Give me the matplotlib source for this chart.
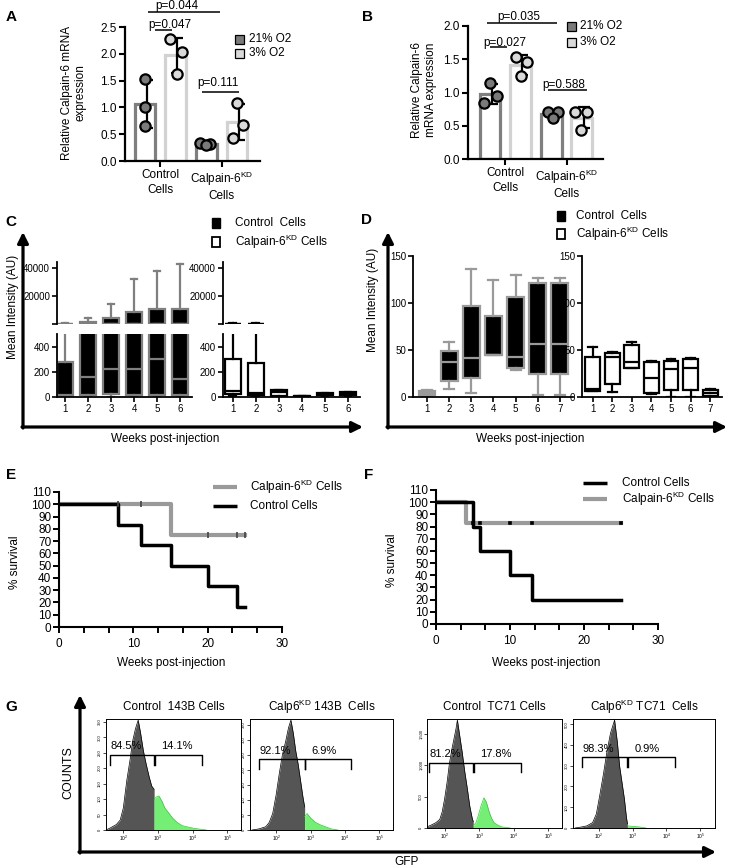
import numpy as np
import matplotlib
matplotlib.use("Agg")
import matplotlib.pyplot as plt
from matplotlib import font_manager
from matplotlib.patches import Rectangle
from matplotlib.ticker import MultipleLocator, LogLocator, NullFormatter

W, H = 729, 868

# ---------------- data ----------------
# A / B: relative Calpain-6 mRNA expression, three replicates per bar
A_CTRL_21 = [1.53, 1.00, 0.65]
A_CTRL_3 = [2.27, 2.03, 1.62]
A_KD_21 = [0.33, 0.31, 0.30]
A_KD_3 = [1.08, 0.67, 0.42]
B_CTRL_21 = [1.14, 0.94, 0.84]
B_CTRL_3 = [1.54, 1.46, 1.25]
B_KD_21 = [0.71, 0.70, 0.62]
B_KD_3 = [0.71, 0.71, 0.44]
AB_GROUPS = ["Control\nCells", "Calpain-6$^{\\mathrm{KD}}$\nCells"]
AB_LEGEND = ["21% O2", "3% O2"]

# C / D: mean intensity box plots, (min, q1, median, q3, max) per week
C_WEEKS = [1, 2, 3, 4, 5, 6]
C_CTRL = [(0, 10, 12, 275, 900), (0, 15, 160, 1500, 4500), (0, 20, 220, 4000, 14000),
          (0, 15, 220, 8500, 32000), (0, 15, 300, 10500, 38000), (0, 15, 140, 11000, 43000)]
C_KD = [(5, 20, 50, 300, 900), (5, 15, 35, 270, 900), (2, 8, 40, 55, 55),
        (0, 2, 4, 6, 8), (5, 12, 20, 30, 35), (8, 12, 25, 38, 42)]
D_WEEKS = [1, 2, 3, 4, 5, 6, 7]
D_CTRL = [(1, 2, 4, 6, 7), (8, 17, 37, 49, 58), (4, 20, 42, 97, 136), (45, 45, 45, 86, 124),
          (29, 31, 43, 106, 130), (2, 25, 56, 121, 127), (2, 25, 56, 121, 127)]
D_KD = [(6, 6, 9, 43, 53), (5, 14, 43, 47, 48), (31, 31, 37, 55, 59), (3, 4, 20, 37, 38),
        (0, 7, 30, 38, 40), (0, 7, 31, 40, 41), (0, 1, 4, 7, 8)]
C_BREAK = 500

# E / F: Kaplan-Meier survival (%)
E_CTRL_T = [0, 8, 11, 15, 20, 24, 25]
E_CTRL_S = [100, 83.3, 66.7, 50, 33.3, 16.7, 16.7]
E_KD_T = [0, 15, 25]
E_KD_S = [100, 75, 75]
E_KD_CENS = [8, 11, 20, 24, 25]
F_CTRL_T = [0, 5, 6, 10, 13, 25]
F_CTRL_S = [100, 80, 60, 40, 20, 20]
F_KD_T = [0, 4, 25]
F_KD_S = [100, 83.3, 83.3]
F_KD_CENS = [5, 6, 10, 13, 25]

# G: GFP flow histograms (log10 GFP, relative counts), split at the gate
H1_DARK_LOG = [1.5, 1.63, 1.8, 1.91, 2.0, 2.1, 2.2, 2.27, 2.35, 2.43, 2.5, 2.58, 2.66, 2.75, 2.82, 2.89]
H1_DARK = [0, 0.02, 0.05, 0.09, 0.2, 0.45, 0.65, 0.81, 0.92, 1.0, 0.88, 0.72, 0.6, 0.48, 0.4, 0.37]
H1_GREEN_LOG = [2.89, 2.95, 3.03, 3.12, 3.2, 3.3, 3.42, 3.55, 3.7, 3.9, 4.05, 4.2, 4.4]
H1_GREEN = [0.28, 0.3, 0.31, 0.26, 0.2, 0.16, 0.11, 0.07, 0.04, 0.025, 0.015, 0.008, 0]
H2_DARK_LOG = [1.3, 1.5, 1.6, 1.7, 1.8, 1.9, 2.0, 2.09, 2.18, 2.28, 2.36, 2.43, 2.5, 2.57, 2.64, 2.71, 2.78, 2.83]
H2_DARK = [0, 0.01, 0.02, 0.03, 0.07, 0.15, 0.32, 0.51, 0.68, 0.81, 0.93, 1.0, 0.88, 0.72, 0.6, 0.45, 0.3, 0.21]
H2_GREEN_LOG = [2.83, 2.9, 3.0, 3.14, 3.3, 3.43, 3.6, 3.8]
H2_GREEN = [0.12, 0.15, 0.11, 0.07, 0.045, 0.03, 0.01, 0]
H3_DARK_LOG = [1.49, 1.63, 1.75, 1.86, 1.93, 2.0, 2.07, 2.14, 2.21, 2.28, 2.33, 2.37, 2.44, 2.51, 2.58, 2.66, 2.73, 2.8, 2.83]
H3_DARK = [0.01, 0.03, 0.05, 0.08, 0.15, 0.27, 0.42, 0.6, 0.73, 0.84, 0.92, 1.0, 0.85, 0.7, 0.53, 0.36, 0.2, 0.09, 0.06]
H3_GREEN_LOG = [2.83, 2.91, 2.98, 3.06, 3.14, 3.21, 3.29, 3.36, 3.43, 3.55, 3.66, 3.9]
H3_GREEN = [0.02, 0.05, 0.12, 0.21, 0.28, 0.24, 0.15, 0.09, 0.05, 0.025, 0.01, 0]
H4_DARK_LOG = [1.3, 1.5, 1.65, 1.82, 1.93, 2.03, 2.14, 2.24, 2.35, 2.47, 2.55, 2.62, 2.69, 2.76, 2.82, 2.85]
H4_DARK = [0, 0.01, 0.02, 0.05, 0.13, 0.3, 0.5, 0.7, 0.88, 1.0, 0.8, 0.57, 0.42, 0.27, 0.1, 0.04]
H4_GREEN_LOG = [2.85, 3.0, 3.2, 3.4]
H4_GREEN = [0.02, 0.015, 0.01, 0]
G_PEAKS = [355, 365, 1720, 520]
G_TITLES = ["Control  143B Cells", "Calp6$^{\\mathrm{KD}}$ 143B  Cells",
            "Control  TC71 Cells", "Calp6$^{\\mathrm{KD}}$ TC71  Cells"]
G_PCT = [("84.5%", "14.1%"), ("92.1%", "6.9%"), ("81.2%", "17.8%"), ("98.3%", "0.9%")]
G_GATES = [(1.61, 2.89, 4.26), (1.49, 2.83, 4.17), (1.54, 2.83, 4.2), (1.5, 2.85, 4.26)]
G_YTICKS = [list(range(0, 351, 50)), list(range(0, 351, 50)), [0, 500, 1000, 1500], [0, 100, 200, 300, 400, 500]]
G_YLABELS = [[str(v) for v in G_YTICKS[0]], [str(v) for v in G_YTICKS[1]],
             ["0", "500", "1,000", "1,500"], [str(v) for v in G_YTICKS[3]]]

# ---------------- style ----------------
plt.rcParams['font.family'] = ['Liberation Sans', 'DejaVu Sans']
plt.rcParams['mathtext.fontset'] = 'custom'
plt.rcParams['mathtext.rm'] = 'Liberation Sans'
plt.rcParams['mathtext.it'] = 'Liberation Sans:italic'
plt.rcParams['mathtext.bf'] = 'Liberation Sans:bold'
names = {f.name for f in font_manager.fontManager.ttflist}
NARROW = 'Liberation Sans Narrow' if 'Liberation Sans Narrow' in names else 'Liberation Sans'

fig = plt.figure(figsize=(W / 100, H / 100), dpi=100)

# overlay axes in pixel coordinates for annotations
ov = fig.add_axes([0, 0, 1, 1])
ov.set_xlim(0, W)
ov.set_ylim(H, 0)
ov.axis('off')
ov.set_zorder(10)


def px_axes(x0, y0, x1, y1):
    return fig.add_axes([x0 / W, 1 - y1 / H, (x1 - x0) / W, (y1 - y0) / H])


def line(x0, y0, x1, y1, lw=1.2, color='black'):
    ov.plot([x0, x1], [y0, y1], color=color, lw=lw, solid_capstyle='butt')


def arrow(x0, y0, x1, y1):
    ov.annotate('', xy=(x1, y1), xytext=(x0, y0),
                arrowprops=dict(arrowstyle='-|>', lw=2.3, color='black',
                                mutation_scale=16, shrinkA=0, shrinkB=0))


def clean(ax, lw=1.5):
    for s in ['top', 'right']:
        ax.spines[s].set_visible(False)
    for s in ['left', 'bottom']:
        ax.spines[s].set_linewidth(lw)


# ---------------- A / B ----------------
def bar_panel(box, groups, jit, ylim, yticks, xlim):
    ax = px_axes(*box)
    pos = np.arange(4)
    edge = ['#7f7f7f', '#d2d2d2'] * 2
    face = ['#7a7a7a', '#d9d9d9'] * 2
    means = [np.mean(g) for g in groups]
    sds = [np.std(g, ddof=1) for g in groups]
    ax.bar(pos, means, width=0.68, color='white', edgecolor=edge, linewidth=2.3, zorder=1)
    ax.errorbar(pos + 0.06, means, yerr=sds, fmt='none', ecolor='black',
                elinewidth=1.6, capsize=4, capthick=1.6, zorder=2)
    for p, g, fc, j in zip(pos, groups, face, jit):
        ax.scatter(p + np.array(j), g, s=55, color=fc, edgecolors='black',
                   linewidths=1.6, zorder=3, clip_on=False)
    ax.set_xlim(*xlim)
    ax.set_ylim(*ylim)
    ax.set_yticks(yticks)
    ax.set_yticklabels([f"{v:.1f}" for v in yticks])
    ax.set_xticks([0.5, 2.5])
    ax.set_xticklabels(AB_GROUPS, linespacing=1.3)
    clean(ax, 1.6)
    ax.tick_params(labelsize=8.5, width=1.5, length=4, pad=2)
    return ax


bar_panel((125, 27, 260, 161), [A_CTRL_21, A_CTRL_3, A_KD_21, A_KD_3],
          [[0, 0, 0], [-0.17, 0.2, 0.03], [-0.2, 0.13, 0], [0, 0.2, -0.13]],
          (0, 2.5), [0, 0.5, 1.0, 1.5, 2.0, 2.5], (-0.65, 3.75))
bar_panel((468, 26, 603, 159), [B_CTRL_21, B_CTRL_3, B_KD_21, B_KD_3],
          [[0, 0.22, -0.2], [-0.16, 0.2, 0], [-0.1, 0.23, 0.06], [-0.23, 0.16, -0.03]],
          (0, 2.0), [0, 0.5, 1.0, 1.5, 2.0], (-0.72, 3.69))

ov.text(74, 93, "Relative Calpain-6 mRNA\nexpression", rotation=90, ha='center', va='center',
        multialignment='center', fontsize=8.5, linespacing=1.2)
ov.text(424, 90, "Relative Calpain-6\nmRNA expression", rotation=90, ha='center', va='center',
        multialignment='center', fontsize=8.5, linespacing=1.2)

# p-value brackets
for (tx, ty, s, x0, x1, ly) in [(177, 6, "p=0.044", 148, 220, 12), (170, 25, "p=0.047", 155, 172, 30),
                                (218, 83, "p=0.111", 202, 239, 92),
                                (519, 17, "p=0.035", 487, 557, 23), (505, 43, "p=0.027", 490, 507, 47),
                                (564, 85, "p=0.588", 548, 587, 90)]:
    ov.text(tx, ty, s, ha='center', va='center', fontsize=8.5)
    line(x0, ly, x1, ly, lw=1.1)

# legends A / B
for (sx, tx, y0, y1) in [(235, 249, 39, 53), (567, 580, 26, 42)]:
    for y, fc, lab in [(y0, '#7a7a7a', AB_LEGEND[0]), (y1, '#d9d9d9', AB_LEGEND[1])]:
        ov.add_patch(Rectangle((sx, y - 4.5), 9, 9, facecolor=fc, edgecolor='black', lw=0.9))
        ov.text(tx, y, lab, ha='left', va='center', fontsize=8.5)


# ---------------- C / D ----------------
def draw_boxes(ax, weeks, stats, face, edge, lw, width, capw):
    bs = [dict(whislo=s[0], q1=s[1], med=s[2], q3=s[3], whishi=s[4], fliers=[]) for s in stats]
    ax.bxp(bs, positions=weeks, widths=width, capwidths=capw, patch_artist=True,
           showfliers=False, manage_ticks=False,
           boxprops=dict(facecolor=face, edgecolor=edge, linewidth=lw),
           medianprops=dict(color=edge, linewidth=lw),
           whiskerprops=dict(color=edge, linewidth=lw),
           capprops=dict(color=edge, linewidth=lw))


def box_axes(box, xlim, ylim, yticks, ylabels, weeks=None):
    ax = px_axes(*box)
    ax.set_xlim(*xlim)
    ax.set_ylim(*ylim)
    ax.set_yticks(yticks)
    ax.set_yticklabels(ylabels, fontfamily=NARROW, fontsize=7)
    clean(ax, 1.3)
    if weeks is None:
        ax.spines['bottom'].set_visible(False)
        ax.set_xticks([])
    else:
        ax.set_xticks(weeks)
        ax.set_xticklabels([str(w) for w in weeks], fontfamily=NARROW, fontsize=7)
    ax.tick_params(width=1.2, length=3.5, pad=1.5)
    return ax


ctrl_style = ('black', '#7f7f7f', 1.6)
kd_style = ('white', 'black', 1.6)
for x0, x1, xlim, stats, style in [(57, 192, (0.65, 6.52), C_CTRL, ctrl_style),
                                   (223, 360, (0.57, 6.52), C_KD, kd_style)]:
    top = box_axes((x0, 262, x1, 324), xlim, (0, 44300), [0, 20000, 40000], ['', '20000', '40000'])
    bot = box_axes((x0, 334, x1, 397), xlim, (0, C_BREAK), [0, 200, 400], ['0', '200', '400'], C_WEEKS)
    # upper segment only shows boxes reaching above the axis break
    tall = [i for i, s in enumerate(stats) if s[4] > C_BREAK]
    draw_boxes(top, [C_WEEKS[i] for i in tall], [stats[i] for i in tall], *style, 0.7, 0.3)
    draw_boxes(bot, C_WEEKS, stats, *style, 0.7, 0.3)
    for ax in (top, bot):
        ax.set_xlim(*xlim)

for x0, x1, xlim, stats, style in [(413, 573, (0.36, 7.6), D_CTRL, ('black', '#9a9a9a', 1.6)),
                                   (582, 722, (0.46, 7.6), D_KD, kd_style)]:
    ax = box_axes((x0, 256, x1, 397), xlim, (0, 150), [0, 50, 100, 150], ['0', '50', '100', '150'], D_WEEKS)
    draw_boxes(ax, D_WEEKS, stats, *style, 0.75, 0.45)
    ax.set_xlim(*xlim)

arrow(23, 428, 23, 232)
arrow(22, 427, 363, 427)
arrow(388, 428, 388, 232)
arrow(387, 427, 727, 427)
ov.text(13, 307, "Mean Intensity (AU)", rotation=90, ha='center', va='center', fontsize=8.5)
ov.text(373, 300, "Mean Intensity (AU)", rotation=90, ha='center', va='center', fontsize=8.5)
ov.text(165, 439, "Weeks post-injection", ha='center', va='center', fontsize=8.5)
ov.text(530, 439, "Weeks post-injection", ha='center', va='center', fontsize=8.5)

for (sx, tx, y0, y1) in [(212, 235, 223, 242), (557, 576, 216, 234)]:
    ov.add_patch(Rectangle((sx, y0 - 5), 8, 10, facecolor='black', edgecolor='black', lw=1))
    ov.text(tx, y0, "Control  Cells", ha='left', va='center', fontsize=8.5)
    ov.add_patch(Rectangle((sx, y1 - 5), 8, 10, facecolor='white', edgecolor='black', lw=1.3))
    ov.text(tx, y1, "Calpain-6$^{\\mathrm{KD}}$ Cells", ha='left', va='center', fontsize=8.5)


# ---------------- E / F ----------------
def surv_axes(box):
    ax = px_axes(*box)
    ax.set_xlim(0, 30)
    ax.set_ylim(0, 110)
    ax.set_yticks(range(0, 111, 10))
    ax.set_xticks([0, 10, 20, 30])
    ax.xaxis.set_minor_locator(MultipleLocator(10 / 3))
    clean(ax, 1.5)
    ax.tick_params(which='both', width=1.4, length=4, labelsize=8.5, pad=1.5)
    ax.tick_params(axis='x', pad=4)
    return ax


def censor(ax, T, S, cens, color, marker, ms):
    idx = np.searchsorted(T, cens, side='right') - 1
    ax.plot(cens, np.array(S)[idx], linestyle='none', marker=marker, color=color,
            ms=ms, mew=1.2, zorder=4, clip_on=False)


axE = surv_axes((59, 492, 282, 627))
axE.step(E_KD_T, E_KD_S, where='post', color='#9a9a9a', lw=3, zorder=2)
axE.step(E_CTRL_T, E_CTRL_S, where='post', color='black', lw=2.5, zorder=3)
censor(axE, E_KD_T, E_KD_S, E_KD_CENS, '#444444', '|', 4)

axF = surv_axes((436, 490, 658, 624))
axF.step(F_KD_T, F_KD_S, where='post', color='#9a9a9a', lw=3, zorder=2)
axF.step(F_CTRL_T, F_CTRL_S, where='post', color='black', lw=2.5, zorder=3)
censor(axF, F_KD_T, F_KD_S, F_KD_CENS, 'black', 's', 2)

ov.text(15, 562, "% survival", rotation=90, ha='center', va='center', fontsize=8.5)
ov.text(392, 560, "% survival", rotation=90, ha='center', va='center', fontsize=8.5)
ov.text(171, 663, "Weeks post-injection", ha='center', va='center', fontsize=8.5)
ov.text(546, 663, "Weeks post-injection", ha='center', va='center', fontsize=8.5)

line(213, 487, 237, 487, lw=3, color='#9a9a9a')
ov.text(250, 487, "Calpain-6$^{\\mathrm{KD}}$ Cells", ha='left', va='center', fontsize=8.5)
line(213, 506, 237, 506, lw=2.5)
ov.text(250, 506, "Control Cells", ha='left', va='center', fontsize=8.5)
line(583, 483, 607, 483, lw=2.5)
ov.text(622, 483, "Control Cells", ha='left', va='center', fontsize=8.5)
line(583, 499, 607, 499, lw=3, color='#9a9a9a')
ov.text(622, 499, "Calpain-6$^{\\mathrm{KD}}$ Cells", ha='left', va='center', fontsize=8.5)

# ---------------- G ----------------
G_BOXES = [(106, 719, 241, 830), (250, 719, 393, 830), (427, 719, 562, 828), (573, 719, 715, 828)]
G_XLIM = [(1.5, 5.4), (1.24, 5.4), (1.49, 5.4), (1.24, 5.44)]
G_DARK = [(H1_DARK_LOG, H1_DARK), (H2_DARK_LOG, H2_DARK), (H3_DARK_LOG, H3_DARK), (H4_DARK_LOG, H4_DARK)]
G_GREEN = [(H1_GREEN_LOG, H1_GREEN), (H2_GREEN_LOG, H2_GREEN), (H3_GREEN_LOG, H3_GREEN), (H4_GREEN_LOG, H4_GREEN)]
G_BRACKET_Y = [0.68, 0.64, 0.6, 0.65]

for i in range(4):
    ax = px_axes(*G_BOXES[i])
    ax.set_xscale('log')
    ax.set_xlim(10 ** G_XLIM[i][0], 10 ** G_XLIM[i][1])
    ax.set_ylim(0, G_PEAKS[i] * 1.01)
    dx, dy = G_DARK[i]
    gx, gy = G_GREEN[i]
    ax.fill_between(10 ** np.array(dx), np.array(dy) * G_PEAKS[i], color='#555555', lw=0)
    ax.plot(10 ** np.array(dx), np.array(dy) * G_PEAKS[i], color='black', lw=0.5)
    ax.fill_between(10 ** np.array(gx), np.array(gy) * G_PEAKS[i], color='#74ee74', lw=0)
    ax.plot(10 ** np.array(gx), np.array(gy) * G_PEAKS[i], color='#3fc03f', lw=0.5)
    for s in ax.spines.values():
        s.set_linewidth(0.7)
    ax.set_xticks([1e2, 1e3, 1e4, 1e5])
    ax.set_xticklabels(["$10^2$", "$10^3$", "$10^4$", "$10^5$"], fontsize=3.5)
    ax.xaxis.set_minor_locator(LogLocator(base=10, subs=np.arange(2, 10)))
    ax.xaxis.set_minor_formatter(NullFormatter())
    ax.set_yticks(G_YTICKS[i])
    ax.set_yticklabels(G_YLABELS[i], rotation=90, fontsize=3, va='center')
    ax.tick_params(which='both', length=2, width=0.5, pad=1)
    ax.tick_params(which='minor', length=1.2)
    # gate brackets
    x0, xg, x1 = (10 ** v for v in G_GATES[i])
    yb = G_BRACKET_Y[i]
    tr = ax.get_xaxis_transform()
    ax.plot([x0, x0, xg, xg], [yb - 0.09, yb, yb, yb - 0.09], color='black', lw=1, transform=tr)
    ax.plot([xg * 1.05, xg * 1.05, x1, x1], [yb - 0.09, yb, yb, yb - 0.09], color='black', lw=1, transform=tr)
    ax.text(x0 * 1.05, yb + 0.03, G_PCT[i][0], transform=tr, ha='left', va='bottom', fontsize=8)
    ax.text(xg * 1.6, yb + 0.03, G_PCT[i][1], transform=tr, ha='left', va='bottom', fontsize=8)
    bx0, by0, bx1, by1 = G_BOXES[i]
    ov.text((bx0 + bx1) / 2, 707, G_TITLES[i], ha='center', va='center', fontsize=8.5)

arrow(80, 853, 80, 695)
arrow(79, 852, 716, 852)
ov.text(68, 773, "COUNTS", rotation=90, ha='center', va='center', fontsize=9)
ov.text(407, 862, "GFP", ha='center', va='center', fontsize=8.5)

# panel letters
for s, x, y in [("A", 11, 17), ("B", 368, 17), ("C", 11, 222), ("D", 367, 220),
                ("E", 11, 475), ("F", 369, 475), ("G", 11, 707)]:
    ov.text(x, y, s, ha='center', va='center', fontsize=11, fontweight='bold')

fig.savefig("out.png", dpi=100)
